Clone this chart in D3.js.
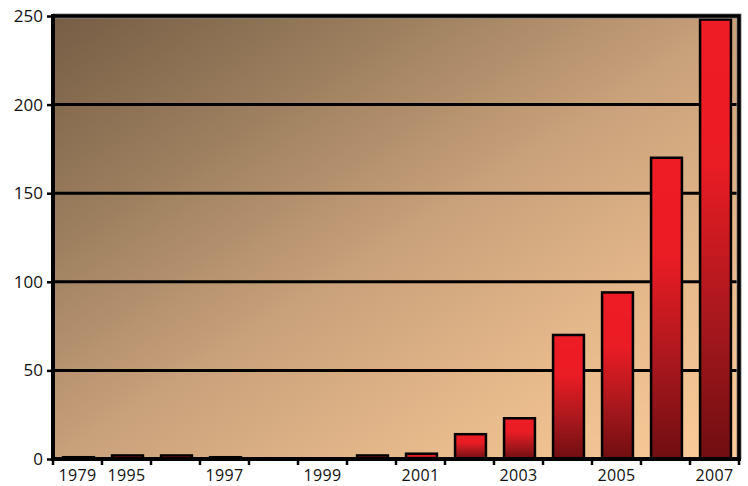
<!DOCTYPE html>
<html>
<head>
<meta charset="utf-8">
<script src="https://cdn.jsdelivr.net/npm/d3@7/dist/d3.min.js"></script>
<style>
  html, body { margin: 0; padding: 0; background: #ffffff; }
  svg { display: block; }
  text { font-family: "Open Sans", "Noto Sans", sans-serif; fill: #111; }
</style>
</head>
<body>
<svg id="chart" width="748" height="486"></svg>
<script>
// Yearly counts
const years  = ["1979", "1995", "1996", "1997", "1998", "1999", "2000",
                "2001", "2002", "2003", "2004", "2005", "2006", "2007"];
const counts = [1, 2, 2, 1, 0, 0, 2, 3, 14, 23, 70, 94, 170, 248];
const yTicks = [0, 50, 100, 150, 200, 250];
const xLabels = ["1979", "1995", "1997", "1999", "2001", "2003", "2005", "2007"];

const W = 748, H = 486;
const m = { left: 53, right: 9, top: 16, bottom: 27 };
const svg = d3.select("#chart");
const defs = svg.append("defs");

// background of the plot area: dark brown top-left to peach bottom-right
const bg = defs.append("linearGradient").attr("id", "bgGrad")
  .attr("x1", 0).attr("y1", 0).attr("x2", 1).attr("y2", 1);
[[0, "#765d44"], [0.25, "#9b7e5e"], [0.5, "#c8a07a"], [0.75, "#e6b98b"], [1, "#fdcd99"]]
  .forEach(([o, c]) => bg.append("stop").attr("offset", o).attr("stop-color", c));

// bar fill: bright red at the top, deepening to dark red at the base
const bar = defs.append("linearGradient").attr("id", "barGrad")
  .attr("x1", 0).attr("y1", 0).attr("x2", 0).attr("y2", 1);
[[0, "#ee1c25"], [0.33, "#ea1c24"], [0.68, "#a8181d"], [1, "#6f0e11"]]
  .forEach(([o, c]) => bar.append("stop").attr("offset", o).attr("stop-color", c));

const x = d3.scaleBand().domain(years).range([m.left, W - m.right]).padding(0);
const y = d3.scaleLinear().domain([0, 250]).range([H - m.bottom, m.top]);

const x0 = m.left, x1 = W - m.right, y0 = y(0), y1 = y(250);

// plot area
svg.append("rect").attr("x", x0).attr("y", y1)
  .attr("width", x1 - x0).attr("height", y0 - y1)
  .attr("fill", "url(#bgGrad)");

// horizontal gridlines
svg.append("g").selectAll("line").data(yTicks.filter(v => v > 0 && v < 250)).join("line")
  .attr("x1", x0).attr("x2", x1)
  .attr("y1", d => y(d)).attr("y2", d => y(d))
  .attr("stroke", "#000").attr("stroke-width", 3);

// bars
const bw = x.bandwidth() * 0.63;
svg.append("g").selectAll("rect").data(years.map((k, i) => ({ k, v: counts[i] })).filter(d => d.v > 0))
  .join("rect")
  .attr("x", d => x(d.k) + x.bandwidth() / 2 - bw / 2 + 1)
  .attr("y", d => y(d.v))
  .attr("width", bw)
  .attr("height", d => y0 - y(d.v))
  .attr("fill", "url(#barGrad)")
  .attr("stroke", "#000").attr("stroke-width", 2.5);

// frame: top and right borders
svg.append("path")
  .attr("d", `M${x0},${y1}H${x1}V${y0}`)
  .attr("fill", "none").attr("stroke", "#888").attr("stroke-width", 5);
svg.append("path")
  .attr("d", `M${x0},${y1}H${x1}V${y0}`)
  .attr("fill", "none").attr("stroke", "#000").attr("stroke-width", 3.5);

// y axis
const yAxis = svg.append("g").attr("transform", `translate(${x0},0)`)
  .call(d3.axisLeft(y).tickValues(yTicks).tickSize(6).tickPadding(4).tickFormat(d3.format("d")));
yAxis.select(".domain").remove();
yAxis.selectAll(".tick line").attr("stroke", "#000").attr("stroke-width", 2.5);
yAxis.selectAll(".tick text").attr("font-size", 17).attr("font-family", "'Open Sans', sans-serif").attr("fill", "#111");
svg.append("line").attr("x1", x0).attr("x2", x0).attr("y1", y1 - 2).attr("y2", y0 + 2)
  .attr("stroke", "#000").attr("stroke-width", 4);

// x axis: ticks at category boundaries, labels on alternating categories
const bounds = years.map(k => x(k)).concat([x1]);
svg.append("g").selectAll("line").data(bounds).join("line")
  .attr("x1", d => d).attr("x2", d => d)
  .attr("y1", y0).attr("y2", y0 + 6)
  .attr("stroke", "#000").attr("stroke-width", 2.5);
svg.append("line").attr("x1", x0 - 2).attr("x2", x1 + 2).attr("y1", y0).attr("y2", y0)
  .attr("stroke", "#000").attr("stroke-width", 4);
svg.append("g").selectAll("text").data(xLabels).join("text")
  .attr("x", d => x(d) + x.bandwidth() / 2)
  .attr("y", H - 5)
  .attr("text-anchor", "middle")
  .attr("font-size", 16)
  .attr("letter-spacing", 0.4)
  .text(d => d);
</script>
</body>
</html>
